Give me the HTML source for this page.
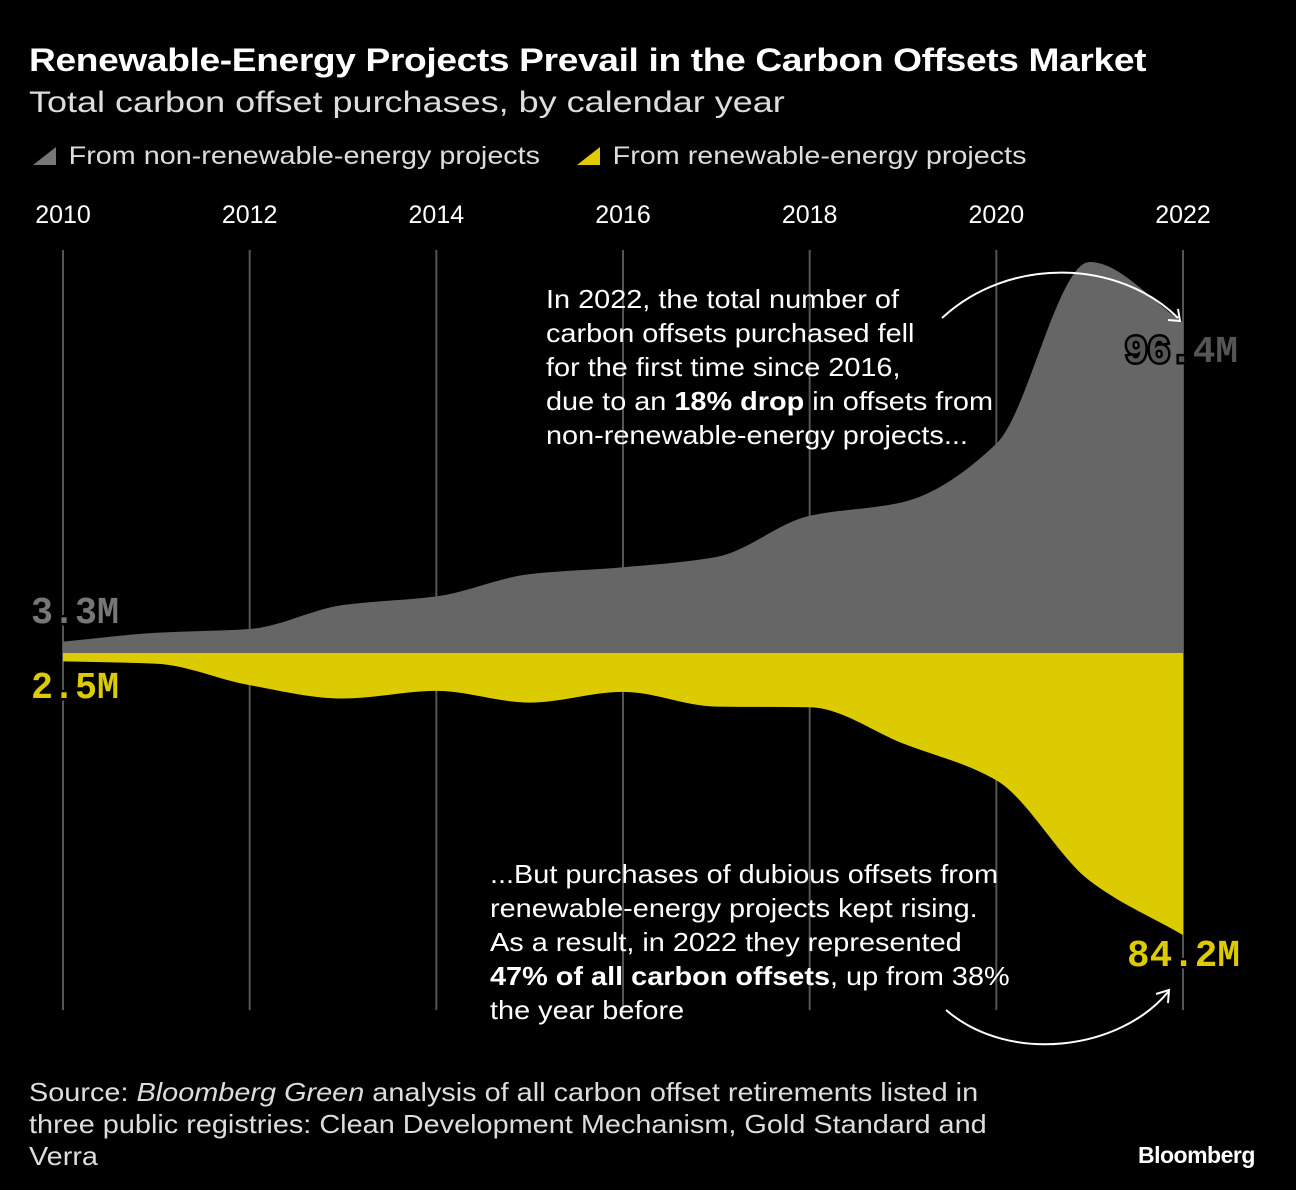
<!DOCTYPE html>
<html><head><meta charset="utf-8">
<style>
body{margin:0;background:#000;width:1296px;height:1190px;overflow:hidden;font-family:"Liberation Sans",Arial,sans-serif;color:#fff}
.t{position:absolute;white-space:nowrap;transform-origin:0 0}
</style></head><body>
<div class="t" style="left:29px;top:42px;font-size:32px;font-weight:bold;letter-spacing:-0.3px;transform:scaleX(1.16)">Renewable-Energy Projects Prevail in the Carbon Offsets Market</div>
<div class="t" style="left:29px;top:86px;font-size:30px;color:#ddd;transform:scaleX(1.2)">Total carbon offset purchases, by calendar year</div>
<div class="t" style="left:33px;top:142px;font-size:25px;color:#ddd;transform:scaleX(1.15)"><svg width="21" height="24" style="vertical-align:-3px;margin-right:10px"><polygon points="0,22 20,22 20,4" fill="#777"/></svg>From non-renewable-energy projects</div>
<div class="t" style="left:577px;top:142px;font-size:25px;color:#ddd;transform:scaleX(1.15)"><svg width="21" height="24" style="vertical-align:-3px;margin-right:10px"><polygon points="0,22 20,22 20,4" fill="#e0cc00"/></svg>From renewable-energy projects</div>
<svg id="chart" width="1296" height="1190" style="position:absolute;left:0;top:0"></svg>
<div class="t" style="left:546px;top:282px;font-size:26px;line-height:34px;transform:scaleX(1.11)">In 2022, the total number of<br>carbon offsets purchased fell<br>for the first time since 2016,<br>due to an <b>18% drop</b> in offsets from<br>non-renewable-energy projects...</div>
<div class="t" style="left:490px;top:857px;font-size:26px;line-height:34px;transform:scaleX(1.11)">...But purchases of dubious offsets from<br>renewable-energy projects kept rising.<br>As a result, in 2022 they represented<br><b>47% of all carbon offsets</b>, up from 38%<br>the year before</div>
<div class="t" style="left:29px;top:1076px;font-size:26px;line-height:32px;color:#ddd;transform:scaleX(1.11)">Source: <i>Bloomberg Green</i> analysis of all carbon offset retirements listed in<br>three public registries: Clean Development Mechanism, Gold Standard and<br>Verra</div>
<div class="t" style="left:1138px;top:1142px;font-size:23px;font-weight:bold;letter-spacing:-0.5px">Bloomberg</div>
<script>
const years=[2010,2011,2012,2013,2014,2015,2016,2017,2018,2019,2020,2021,2022];
const nonRenewable=[3.3,5.9,7,14,16.5,23,25,28,40,44,61,114,96.4];
const renewable=[2.5,3.2,9.6,13.6,11.3,14.8,11.6,16,16.2,27,38,68,84.2];
const tickYears=[2010,2012,2014,2016,2018,2020,2022];
const svg=document.getElementById('chart');const NS='http://www.w3.org/2000/svg';
const x=y=>63+(y-2010)*(1120/12);
const base=653,k=3.43,k2=3.35;
const yUp=v=>base-v*k,yDn=v=>base+v*k2;
function mk(t,a){const e=document.createElementNS(NS,t);for(const q in a)e.setAttribute(q,a[q]);svg.appendChild(e);return e;}
tickYears.forEach(yr=>{
 const l=mk('line',{x1:x(yr),x2:x(yr),y1:250,y2:1010,stroke:'#555','stroke-width':2});
 
 
 const t=mk('text',{x:x(yr),y:223,'text-anchor':'middle',fill:'#fff','font-size':25,'font-family':'Liberation Sans, sans-serif'});
 t.textContent=yr;
 
 
});
function monotone(px,py){
 const n=px.length,d=[],m=[];
 for(let i=0;i<n-1;i++)d.push((py[i+1]-py[i])/(px[i+1]-px[i]));
 m[0]=d[0];m[n-1]=d[n-2];
 for(let i=1;i<n-1;i++){m[i]=(d[i-1]*d[i]<=0)?0:(2*d[i-1]*d[i]/(d[i-1]+d[i]));}
 let s='M'+px[0]+','+py[0];
 for(let i=0;i<n-1;i++){const h=(px[i+1]-px[i])/3;
  s+=' C'+(px[i]+h)+','+(py[i]+m[i]*h)+' '+(px[i+1]-h)+','+(py[i+1]-m[i+1]*h)+' '+px[i+1]+','+py[i+1];}
 return s;
}
function area(vals,f,fill,name){
 const px=years.map(x),py=vals.map(f);
 const p=mk('path',{d:monotone(px,py)+' L'+px[px.length-1]+','+base+' L'+px[0]+','+base+' Z',fill:fill});
 
 
}
area(nonRenewable,yUp,'#666','area-non-renewable');
area(renewable,yDn,'#dccb00','area-renewable');
function lab(txt,xx,yy,fill,name,stroke){
 const t=mk('text',{x:xx,y:yy,fill:fill,'font-size':38,'font-weight':'bold','font-family':'Liberation Mono, monospace','textLength':113,'lengthAdjust':'spacingAndGlyphs'});
 if(stroke){t.setAttribute('stroke',stroke);t.setAttribute('stroke-width',5);t.setAttribute('paint-order','stroke');}
 t.textContent=txt;
 
 
}
function lab4(txt,xx,yy,fill,name){
 const t=mk('text',{x:xx,y:yy,fill:fill,'font-size':38,'font-weight':'bold','font-family':'Liberation Mono, monospace','textLength':88,'lengthAdjust':'spacingAndGlyphs',stroke:'#000','stroke-width':5,'paint-order':'stroke'});
 t.textContent=txt;
 
 
}
lab4(nonRenewable[0]+'M',31,623,'#777','label-2010-non-renewable');
lab4(renewable[0]+'M',31,698,'#dccb00','label-2010-renewable');
lab(nonRenewable[12]+'M',1125,362,'#555','label-2022-non-renewable','#000');
lab(renewable[12]+'M',1127,966,'#dccb00','label-2022-renewable','#000');
const a1=mk('path',{d:'M942,318 C1010,255 1120,260 1178,318',fill:'none',stroke:'#fff','stroke-width':2});

mk('path',{d:'M1168,320 L1180,321 L1178,309',fill:'none',stroke:'#fff','stroke-width':2});
const a2=mk('path',{d:'M946,1010 C1010,1065 1120,1050 1168,992',fill:'none',stroke:'#fff','stroke-width':2});

mk('path',{d:'M1156,994 L1169,990 L1168,1003',fill:'none',stroke:'#fff','stroke-width':2});
</script>
</body></html>
